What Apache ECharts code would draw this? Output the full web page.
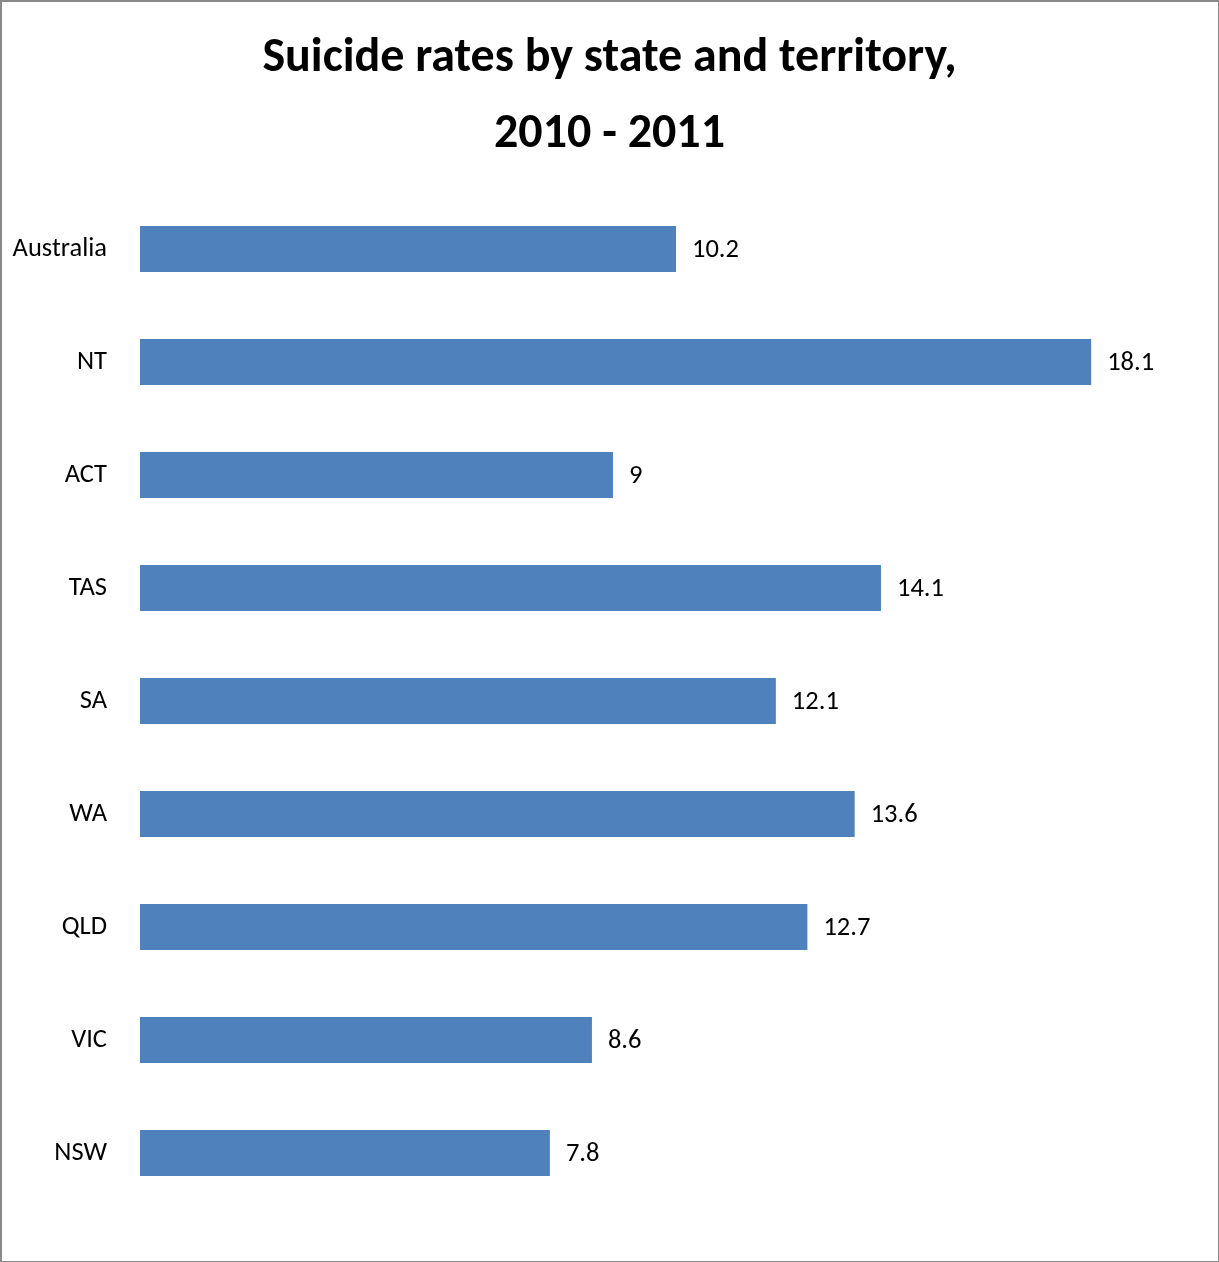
<!DOCTYPE html>
<html>
<head>
<meta charset="utf-8">
<script src="https://cdn.jsdelivr.net/npm/echarts@6/dist/echarts.min.js"></script>
<style>
  html, body { margin: 0; padding: 0; background: #fff; }
  #frame { position: absolute; left: 0; top: 0; width: 1219px; height: 1262px; box-sizing: border-box;
           border: 1px solid #8a8a8a; border-left-width: 2px; border-top-width: 2px; }
  #chart { position: absolute; left: 0; top: 0; width: 1219px; height: 1262px; }
</style>
</head>
<body>
<div id="chart"></div>
<div id="frame"></div>
<script>
const categories = ["Australia", "NT", "ACT", "TAS", "SA", "WA", "QLD", "VIC", "NSW"];
const rates = [10.2, 18.1, 9, 14.1, 12.1, 13.6, 12.7, 8.6, 7.8];
const titleText = "Suicide rates by state and territory,\n2010 - 2011";

const chart = echarts.init(document.getElementById('chart'), null, { renderer: 'canvas' });
const font = "Carlito, Lato, 'Open Sans', sans-serif";
chart.setOption({
  backgroundColor: '#ffffff',
  animation: false,
  title: {
    text: titleText,
    left: 'center',
    top: 16,
    textStyle: { fontFamily: font, fontWeight: 'bold', fontSize: 48, lineHeight: 76, color: '#000' }
  },
  grid: { left: 140, top: 192.5, width: 1051, height: 1017, containLabel: false },
  xAxis: {
    type: 'value', min: 0, max: 20, show: false
  },
  yAxis: {
    type: 'category', data: categories, inverse: true,
    axisLine: { show: false }, axisTick: { show: false },
    axisLabel: { fontFamily: font, fontSize: 26.5, color: '#000', margin: 33 }
  },
  series: [{
    type: 'bar', data: rates, barWidth: 46,
    itemStyle: { color: '#4F81BD' },
    label: { show: true, position: 'right', distance: 16, fontFamily: font, fontSize: 26.5, color: '#000', offset: [0, 1] }
  }]
});
</script>
</body>
</html>
